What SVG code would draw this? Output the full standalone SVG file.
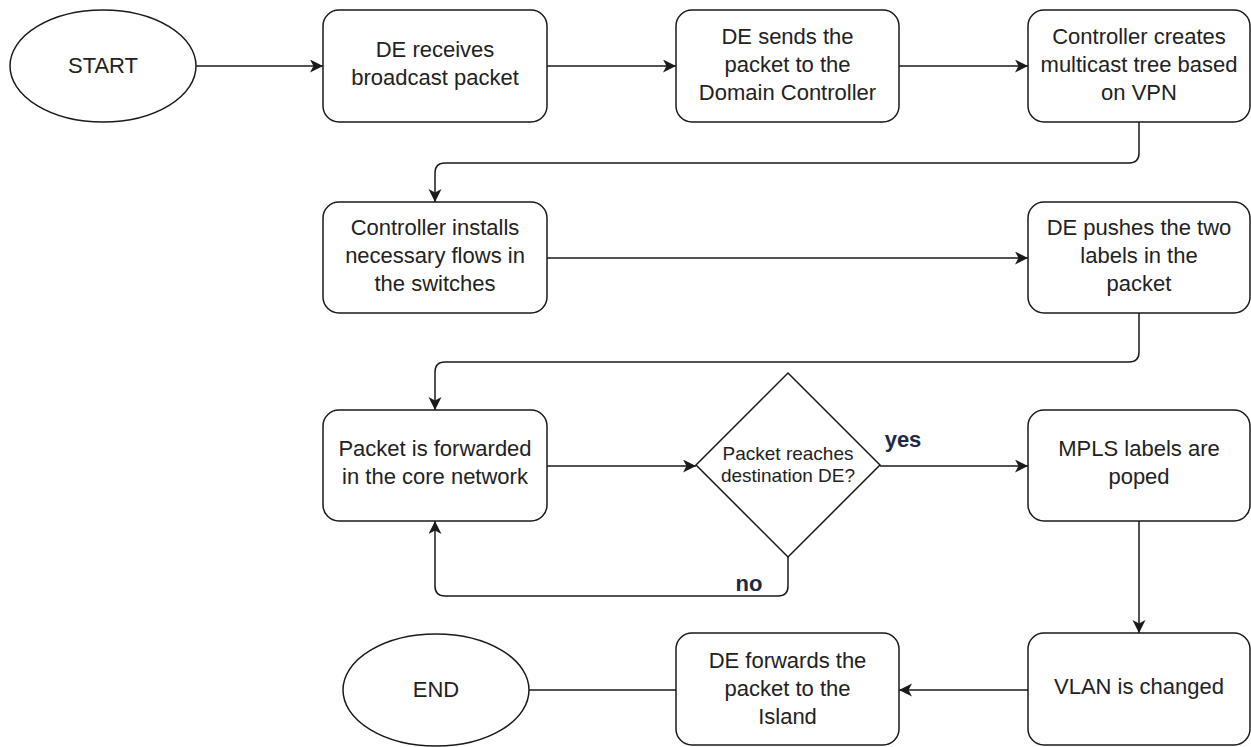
<svg xmlns="http://www.w3.org/2000/svg" width="1251" height="747" viewBox="0 0 1251 747">
  <style>
    .shape { fill: #ffffff; stroke: #1a1a1a; stroke-width: 1.5; }
    .edge { fill: none; stroke: #1a1a1a; stroke-width: 1.5; }
    .lbl { font-family: "Liberation Sans", Arial, Helvetica, sans-serif; font-size: 22px; fill: #222222; text-anchor: middle; }
    .small { font-size: 19px; }
    .cond { font-family: "Liberation Sans", Arial, Helvetica, sans-serif; font-size: 22px; font-weight: bold; fill: #1c2a45; text-anchor: middle; }
  </style>
  <defs>
    <marker id="arrow" markerUnits="userSpaceOnUse" markerWidth="14" markerHeight="14" refX="13" refY="6.5" orient="auto">
      <path d="M0,0 L13,6.5 L0,13 L3.5,6.5 Z" fill="#1a1a1a"/>
    </marker>
  </defs>
  <rect width="1251" height="747" fill="#ffffff"/>

  <!-- connectors -->
  <g id="connectors">
    <path class="edge" d="M196,66 H323" marker-end="url(#arrow)"/>
    <path class="edge" d="M547,66 H676" marker-end="url(#arrow)"/>
    <path class="edge" d="M899,66 H1028" marker-end="url(#arrow)"/>
    <path class="edge" d="M1139,122 V153 Q1139,163 1129,163 H445 Q435,163 435,173 V202" marker-end="url(#arrow)"/>
    <path class="edge" d="M547,258 H1028" marker-end="url(#arrow)"/>
    <path class="edge" d="M1139,313 V352 Q1139,362 1129,362 H445 Q435,362 435,372 V410" marker-end="url(#arrow)"/>
    <path class="edge" d="M547,466 H696" marker-end="url(#arrow)"/>
    <path class="edge" d="M880,466 H1028" marker-end="url(#arrow)"/>
    <text class="cond" x="903" y="447">yes</text>
    <path class="edge" d="M788,557 V586 Q788,596 778,596 H445 Q435,596 435,586 V521" marker-end="url(#arrow)"/>
    <text class="cond" x="749" y="591">no</text>
    <path class="edge" d="M1139,521 V633" marker-end="url(#arrow)"/>
    <path class="edge" d="M1028,690 H899" marker-end="url(#arrow)"/>
    <path class="edge" d="M676,690 H529"/>
  </g>

  <g id="start">
    <ellipse class="shape" cx="103" cy="66" rx="93" ry="56"/>
    <text class="lbl" x="103" y="73">START</text>
  </g>

  <g id="receive">
    <rect class="shape" x="323" y="10" width="224" height="112" rx="16"/>
    <text class="lbl" x="435" y="57">DE receives</text>
    <text class="lbl" x="435" y="85">broadcast packet</text>
  </g>

  <g id="send">
    <rect class="shape" x="676" y="10" width="223" height="112" rx="16"/>
    <text class="lbl" x="787.5" y="44">DE sends the</text>
    <text class="lbl" x="787.5" y="72">packet to the</text>
    <text class="lbl" x="787.5" y="100">Domain Controller</text>
  </g>

  <g id="tree">
    <rect class="shape" x="1028" y="10" width="222" height="112" rx="16"/>
    <text class="lbl" x="1139" y="44">Controller creates</text>
    <text class="lbl" x="1139" y="72">multicast tree based</text>
    <text class="lbl" x="1139" y="100">on VPN</text>
  </g>

  <g id="install">
    <rect class="shape" x="323" y="202" width="224" height="111" rx="16"/>
    <text class="lbl" x="435" y="235">Controller installs</text>
    <text class="lbl" x="435" y="263">necessary flows in</text>
    <text class="lbl" x="435" y="291">the switches</text>
  </g>

  <g id="push">
    <rect class="shape" x="1028" y="202" width="222" height="111" rx="16"/>
    <text class="lbl" x="1139" y="235">DE pushes the two</text>
    <text class="lbl" x="1139" y="263">labels in the</text>
    <text class="lbl" x="1139" y="291">packet</text>
  </g>

  <g id="forward-core">
    <rect class="shape" x="323" y="410" width="224" height="111" rx="16"/>
    <text class="lbl" x="435" y="456">Packet is forwarded</text>
    <text class="lbl" x="435" y="484">in the core network</text>
  </g>

  <g id="decision">
    <polygon class="shape" points="788,373 880,465 788,557 696,465"/>
    <text class="lbl small" x="788" y="460">Packet reaches</text>
    <text class="lbl small" x="788" y="482">destination DE?</text>
  </g>

  <g id="pop">
    <rect class="shape" x="1028" y="410" width="222" height="111" rx="16"/>
    <text class="lbl" x="1139" y="456">MPLS labels are</text>
    <text class="lbl" x="1139" y="484">poped</text>
  </g>

  <g id="vlan">
    <rect class="shape" x="1028" y="633" width="222" height="112" rx="16"/>
    <text class="lbl" x="1139" y="694">VLAN is changed</text>
  </g>

  <g id="forward-island">
    <rect class="shape" x="676" y="633" width="223" height="112" rx="16"/>
    <text class="lbl" x="787.5" y="668">DE forwards the</text>
    <text class="lbl" x="787.5" y="696">packet to the</text>
    <text class="lbl" x="787.5" y="724">Island</text>
  </g>

  <g id="end">
    <ellipse class="shape" cx="436" cy="690" rx="93" ry="56"/>
    <text class="lbl" x="436" y="697">END</text>
  </g>
</svg>
